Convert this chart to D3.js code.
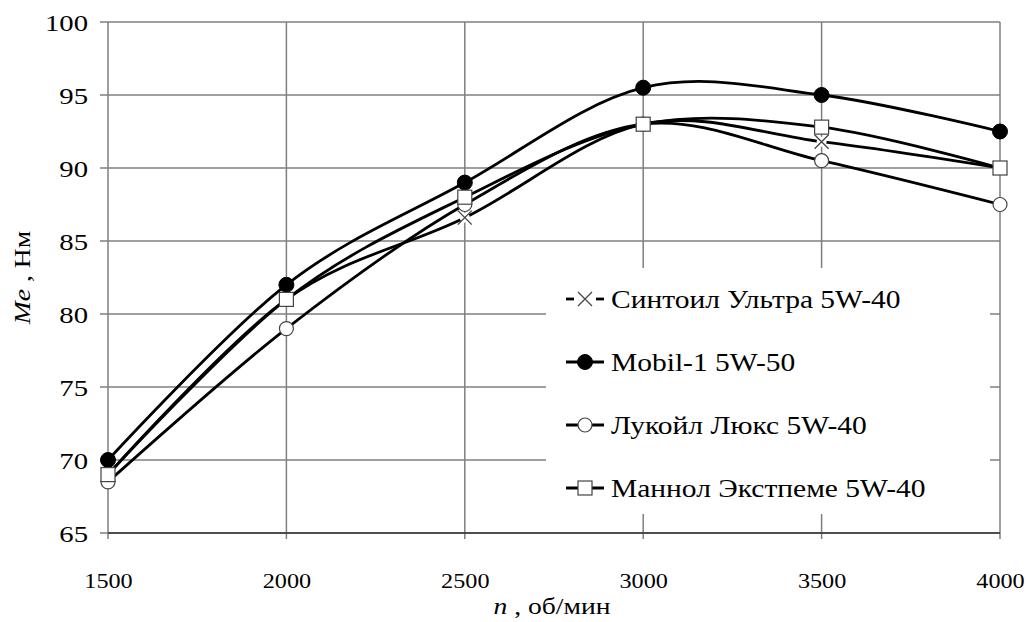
<!DOCTYPE html>
<html><head><meta charset="utf-8">
<script src="https://cdn.jsdelivr.net/npm/d3@7"></script>
</head><body style="margin:0"><svg id="c" width="1035" height="622"></svg>
<script>
const rpm = [1500, 2000, 2500, 3000, 3500, 4000];
const sintoil = [69, 81, 86.6, 93, 91.8, 90];
const mobil = [70, 82, 89, 95.5, 95, 92.5];
const lukoil = [68.5, 79, 87.5, 93, 90.5, 87.5];
const mannol = [69, 81, 88, 93, 92.8, 90];
const seriesNames = ["Синтоил Ультра 5W-40", "Mobil-1 5W-50", "Лукойл Люкс 5W-40", "Маннол Экстпеме 5W-40"];
const markerTypes = ["x", "dot", "circle", "square"];
const yTicks = [65, 70, 75, 80, 85, 90, 95, 100];
const xTicks = [1500, 2000, 2500, 3000, 3500, 4000];

const FONT = '"Liberation Serif", serif';
const series = [sintoil, mobil, lukoil, mannol].map((v, i) => ({name: seriesNames[i], m: markerTypes[i], values: v}));

const svg = d3.select("#c");
const L = 108, R = 1000, T = 22, B = 533;
const x = d3.scaleLinear().domain([1500, 4000]).range([L, R]);
const y = d3.scaleLinear().domain([65, 100]).range([B, T]);

// grid
const grid = svg.append("g").attr("stroke", "#7f7f7f").attr("stroke-width", 1.5);
grid.selectAll("line.h").data(yTicks).join("line").attr("x1", L).attr("x2", R).attr("y1", d => y(d)).attr("y2", d => y(d));
grid.selectAll("line.v").data(xTicks).join("line").attr("y1", T).attr("y2", B + 6).attr("x1", d => x(d)).attr("x2", d => x(d));
grid.selectAll("line.t").data(yTicks).join("line").attr("x1", L - 8).attr("x2", L).attr("y1", d => y(d)).attr("y2", d => y(d));
svg.append("line").attr("x1", L).attr("x2", R).attr("y1", B).attr("y2", B).attr("stroke", "#333").attr("stroke-width", 1.5);

// axis labels
const xa = d3.axisBottom(x).tickValues(xTicks).tickSize(0).tickPadding(0).tickFormat(d3.format("d"));
const gx = svg.append("g").attr("transform", `translate(0,${B + 47})`).call(xa);
gx.select(".domain").remove();
gx.selectAll("text").attr("y", 0).attr("dy", "0.35em").attr("fill", "#000").attr("transform", "scale(1.1,1)")
  .style("font-family", FONT).style("font-size", "22px");
const ya = d3.axisLeft(y).tickValues(yTicks).tickSize(0).tickPadding(0);
const gy = svg.append("g").attr("transform", `translate(${L - 20},0)`).call(ya);
gy.select(".domain").remove();
gy.selectAll("text").attr("dy", "0.35em").attr("fill", "#000").attr("transform", "scale(1.25,1)")
  .style("font-family", FONT).style("font-size", "23px");

// titles
const xt = svg.append("g").attr("transform", "translate(552,614) scale(1.2,1)")
  .append("text").attr("text-anchor", "middle").attr("fill", "#000").style("font-size", "23px").style("font-family", FONT);
xt.append("tspan").style("font-style", "italic").text("n");
xt.append("tspan").text(" , об/мин");
const yt = svg.append("g").attr("transform", `translate(30,${(T + B) / 2}) rotate(-90) scale(1.2,1)`)
  .append("text").attr("text-anchor", "middle").attr("fill", "#000").style("font-size", "23px").style("font-family", FONT);
yt.append("tspan").style("font-style", "italic").text("Me");
yt.append("tspan").text(" , Нм");

// legend background
svg.append("rect").attr("x", 546).attr("y", 268).attr("width", 444).attr("height", 246).attr("fill", "#fff");

// lines
const line = d3.line().x((d, i) => x(rpm[i])).y(d => y(d)).curve(d3.curveCardinal.tension(0));
const pl = svg.append("g");
series.forEach(s => {
  pl.append("path").attr("d", line(s.values)).attr("fill", "none").attr("stroke", "#000").attr("stroke-width", 2.8);
});

function drawMarker(g, type, cx, cy) {
  if (type === "x") {
    g.append("path").attr("d", `M${cx-7},${cy-7}L${cx+7},${cy+7}M${cx-7},${cy+7}L${cx+7},${cy-7}`).attr("stroke", "#444").attr("stroke-width", 1.3).attr("fill", "none");
  } else if (type === "dot") {
    g.append("circle").attr("cx", cx).attr("cy", cy).attr("r", 7.5).attr("fill", "#000").attr("stroke", "#000");
  } else if (type === "circle") {
    g.append("circle").attr("cx", cx).attr("cy", cy).attr("r", 7).attr("fill", "#fff").attr("stroke", "#444").attr("stroke-width", 1.2);
  } else {
    g.append("rect").attr("x", cx - 7).attr("y", cy - 7).attr("width", 14).attr("height", 14).attr("fill", "#fff").attr("stroke", "#444").attr("stroke-width", 1.2);
  }
}
const mk = svg.append("g");
series.forEach(s => {
  s.values.forEach((v, i) => {
    if (s.m === "x") mk.append("circle").attr("cx", x(rpm[i])).attr("cy", y(v)).attr("r", 5).attr("fill", "#fff");
    drawMarker(mk, s.m, x(rpm[i]), y(v));
  });
});

// legend
const lg = svg.append("g");
series.forEach((s, i) => {
  const cy = 299 + i * 63;
  if (s.m === "x") {
    lg.append("line").attr("x1", 566).attr("x2", 574).attr("y1", cy).attr("y2", cy).attr("stroke", "#000").attr("stroke-width", 2.8);
    lg.append("line").attr("x1", 596).attr("x2", 604).attr("y1", cy).attr("y2", cy).attr("stroke", "#000").attr("stroke-width", 2.8);
  } else {
    lg.append("line").attr("x1", 566).attr("x2", 604).attr("y1", cy).attr("y2", cy).attr("stroke", "#000").attr("stroke-width", 2.8);
  }
  drawMarker(lg, s.m, 585, cy);
  lg.append("g").attr("transform", `translate(611,${cy}) scale(1.18,1)`)
    .append("text").attr("dy", "0.35em").attr("fill", "#000").style("font-family", FONT).style("font-size", "25px").text(s.name);
});
</script></body></html>
